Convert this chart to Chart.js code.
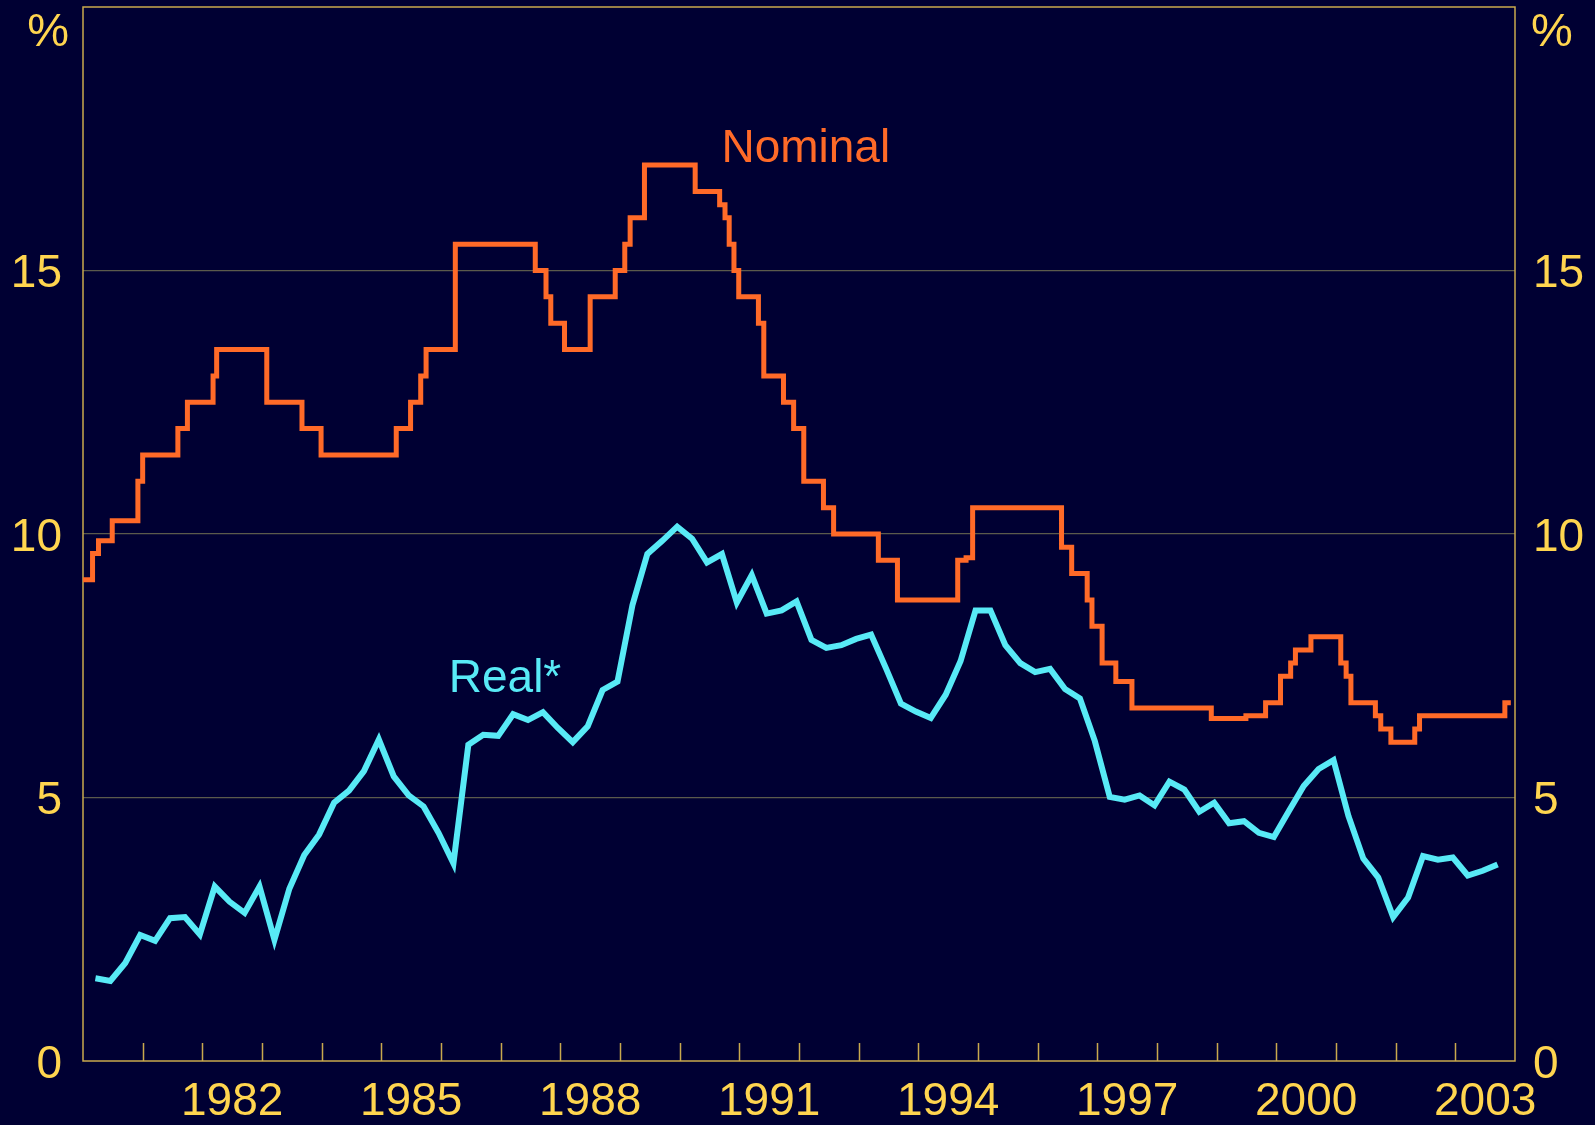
<!DOCTYPE html>
<html>
<head>
<meta charset="utf-8">
<script src="https://cdn.jsdelivr.net/npm/chart.js@4.4.1/dist/chart.umd.min.js"></script>
<style>
  html, body { margin: 0; padding: 0; background: #000033; }
  canvas { display: block; }
</style>
</head>
<body>
<canvas id="rateChart" width="1595" height="1125"></canvas>
<script>
// nominal rate: date of each change (decimal year) and the new rate
const nominalDates = [
  1980.00, 1980.16, 1980.26, 1980.49, 1980.92, 1981.00, 1981.59, 1981.75,
  1982.18, 1982.24, 1983.08, 1983.67, 1983.99, 1985.25, 1985.49, 1985.66,
  1985.75, 1986.24, 1987.58, 1987.76, 1987.84, 1988.07, 1988.50, 1988.92,
  1989.08, 1989.17, 1989.41, 1990.26, 1990.67, 1990.76, 1990.83, 1990.91,
  1990.99, 1991.32, 1991.41, 1991.74, 1991.91, 1992.08, 1992.41, 1992.58,
  1993.33, 1993.65, 1994.66, 1994.80, 1994.91, 1996.40, 1996.57, 1996.83,
  1996.91, 1997.08, 1997.31, 1997.58, 1998.91, 1999.49, 1999.82, 2000.07,
  2000.24, 2000.32, 2000.58, 2001.08, 2001.17, 2001.25, 2001.66, 2001.75,
  2001.92, 2002.32, 2002.40, 2003.83, 2003.93
];
const nominalRates = [
  9.13, 9.63, 9.87, 10.25, 11.0, 11.5, 12.0, 12.5,
  13.0, 13.5, 12.5, 12.0, 11.5, 12.0, 12.5, 13.0,
  13.5, 15.5, 15.0, 14.5, 14.0, 13.5, 14.5, 15.0,
  15.5, 16.0, 17.0, 16.5, 16.25, 16.0, 15.5, 15.0,
  14.5, 14.0, 13.0, 12.5, 12.0, 11.0, 10.5, 10.0,
  9.5, 8.75, 9.5, 9.55, 10.5, 9.75, 9.25, 8.75,
  8.25, 7.55, 7.2, 6.7, 6.5, 6.55, 6.8, 7.3,
  7.55, 7.8, 8.05, 7.55, 7.3, 6.8, 6.55, 6.3,
  6.05, 6.3, 6.55, 6.8, 6.8
];

// real rate, quarterly from 1980 Q1
const realStartYear = 1980;
const realRates = [
  1.57, 1.52, 1.86, 2.39,   // 1980
  2.28, 2.71, 2.73, 2.40,   // 1981
  3.31, 3.02, 2.81, 3.31,   // 1982
  2.30, 3.27, 3.91, 4.30,   // 1983
  4.90, 5.13, 5.50, 6.10,   // 1984
  5.40, 5.04, 4.83, 4.33,   // 1985
  3.75, 6.00, 6.19, 6.17,   // 1986
  6.58, 6.47, 6.62, 6.32,   // 1987
  6.05, 6.35, 7.04, 7.20,   // 1988
  8.65, 9.62, 9.87, 10.14,  // 1989
  9.91, 9.46, 9.62, 8.70,   // 1990
  9.22, 8.49, 8.55, 8.72,   // 1991
  7.99, 7.84, 7.89, 8.01,   // 1992
  8.09, 7.45, 6.78, 6.63,   // 1993
  6.51, 6.95, 7.59, 8.55,   // 1994
  8.55, 7.89, 7.55, 7.38,   // 1995
  7.44, 7.06, 6.88, 6.07,   // 1996
  5.01, 4.96, 5.04, 4.85,   // 1997
  5.30, 5.15, 4.73, 4.90,   // 1998
  4.51, 4.55, 4.33, 4.25,   // 1999
  4.74, 5.22, 5.54, 5.71,   // 2000
  4.65, 3.84, 3.48, 2.73,   // 2001
  3.10, 3.89, 3.82, 3.86,   // 2002
  3.52, 3.61, 3.73          // 2003
];

const xLabelYears = [1982, 1985, 1988, 1991, 1994, 1997, 2000, 2003];
const yTicks = [0, 5, 10, 15];

const BG = '#000033';
const TEXT = '#ffd54f';
const FRAME = '#c9a94e';
const GRID = '#5b5a4c';
const ORANGE = '#ff6a28';
const CYAN = '#58eaf6';
const FONT = "'Liberation Sans', Arial, sans-serif";

const nominalPoints = nominalDates.map((d, i) => ({ x: d, y: nominalRates[i] }));
// plot each quarter in the middle of its last month
const realPoints = realRates.map((v, i) => ({
  x: realStartYear + Math.floor(i / 4) + ((i % 4) * 3 + 2.5) / 12,
  y: v
}));

// background, frame and the little year ticks on the x axis
const framePlugin = {
  id: 'frame',
  beforeDraw(chart) {
    const c = chart.ctx;
    c.save();
    c.fillStyle = BG;
    c.fillRect(0, 0, chart.width, chart.height);
    c.restore();
  },
  beforeDatasetsDraw(chart) {
    const c = chart.ctx;
    const a = chart.chartArea;
    const xs = chart.scales.x;
    c.save();
    c.strokeStyle = FRAME;
    c.lineWidth = 1.5;
    c.strokeRect(a.left, a.top, a.right - a.left, a.bottom - a.top);
    c.beginPath();
    for (let yr = 1981; yr <= 2003; yr++) {
      const px = Math.round(xs.getPixelForValue(yr)) + 0.5;
      c.moveTo(px, a.bottom);
      c.lineTo(px, a.bottom - 18);
    }
    c.stroke();
    c.restore();
  },
  afterDraw(chart) {
    const c = chart.ctx;
    const xs = chart.scales.x;
    const ys = chart.scales.y;
    const a = chart.chartArea;
    c.save();
    c.textBaseline = 'alphabetic';
    c.font = '47px ' + FONT;
    c.fillStyle = TEXT;
    c.textAlign = 'right';
    c.fillText('%', a.left - 14, 46);
    c.textAlign = 'left';
    c.fillText('%', a.right + 16, 46);

    c.font = '46px ' + FONT;
    c.fillStyle = ORANGE;
    c.fillText('Nominal', xs.getPixelForValue(1990.7), ys.getPixelForValue(17.05));
    c.fillStyle = CYAN;
    c.fillText('Real*', xs.getPixelForValue(1986.13), ys.getPixelForValue(7.01));
    c.restore();
  }
};

function noPadding(scale) {
  scale.paddingTop = 0;
  scale.paddingBottom = 0;
  scale.paddingLeft = 0;
  scale.paddingRight = 0;
}

new Chart(document.getElementById('rateChart'), {
  type: 'line',
  data: {
    datasets: [
      {
        label: 'Real*',
        data: realPoints,
        borderColor: CYAN,
        borderWidth: 6,
        borderJoinStyle: 'miter',
        pointRadius: 0,
        tension: 0,
        yAxisID: 'y'
      },
      {
        label: 'Nominal',
        data: nominalPoints,
        borderColor: ORANGE,
        borderWidth: 5,
        borderJoinStyle: 'miter',
        borderCapStyle: 'butt',
        stepped: 'before',
        pointRadius: 0,
        yAxisID: 'y'
      }
    ]
  },
  options: {
    responsive: false,
    animation: false,
    layout: { padding: { top: 7, left: 0, right: 0, bottom: 0 } },
    plugins: {
      legend: { display: false },
      tooltip: { enabled: false },
      title: { display: false }
    },
    scales: {
      x: {
        type: 'linear',
        min: 1980,
        max: 2004,
        afterBuildTicks: (scale) => {
          scale.ticks = xLabelYears.map(yr => ({ value: yr + 0.5 }));
        },
        afterFit: (scale) => { scale.height = 64; noPadding(scale); },
        grid: { display: false, drawTicks: false },
        border: { display: false },
        ticks: {
          autoSkip: false,
          maxRotation: 0,
          padding: 14,
          color: TEXT,
          font: { family: FONT, size: 46 },
          callback: (v) => String(Math.floor(v))
        }
      },
      y: {
        position: 'left',
        min: 0,
        max: 20,
        afterBuildTicks: (scale) => {
          scale.ticks = yTicks.map(v => ({ value: v }));
        },
        afterFit: (scale) => { scale.width = 83; noPadding(scale); },
        grid: {
          drawTicks: false,
          lineWidth: 1.2,
          color: (ctx) => (ctx.tick && ctx.tick.value > 0 ? GRID : 'rgba(0,0,0,0)')
        },
        border: { display: false },
        ticks: {
          padding: 21,
          labelOffset: 4,
          color: TEXT,
          font: { family: FONT, size: 46 }
        }
      },
      y2: {
        position: 'right',
        min: 0,
        max: 20,
        afterBuildTicks: (scale) => {
          scale.ticks = yTicks.map(v => ({ value: v }));
        },
        afterFit: (scale) => { scale.width = 80; noPadding(scale); },
        grid: { display: false, drawTicks: false },
        border: { display: false },
        ticks: {
          padding: 18,
          labelOffset: 4,
          color: TEXT,
          font: { family: FONT, size: 46 }
        }
      }
    }
  },
  plugins: [framePlugin]
});
</script>
</body>
</html>
